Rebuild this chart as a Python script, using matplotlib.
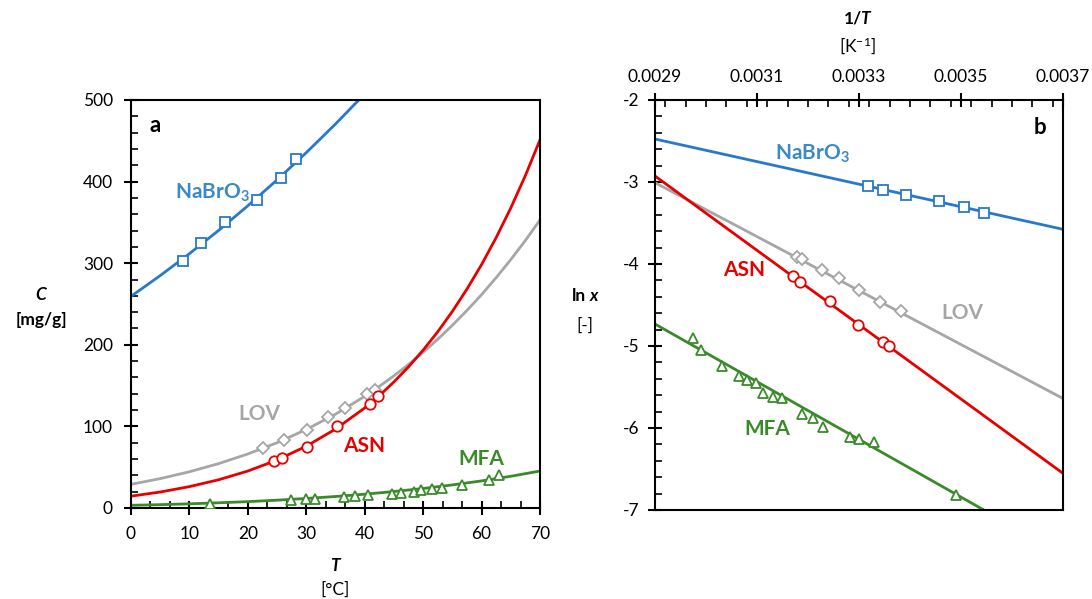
import matplotlib.pyplot as plt
from matplotlib.ticker import MultipleLocator

plt.rcParams['font.family'] = ['Lato', 'DejaVu Sans']
plt.rcParams['axes.unicode_minus'] = False
plt.rcParams['mathtext.fontset'] = 'custom'
plt.rcParams['mathtext.rm'] = 'Lato'
plt.rcParams['mathtext.bf'] = 'Lato:bold'
plt.rcParams['mathtext.it'] = 'Lato:italic'

# ---- panel a: C [mg/g] vs T [degC] ----
T_fit = [0, 5, 10, 15, 20, 25, 30, 35, 40, 45, 50, 55, 60, 65, 70]
nabro3_fit = [259.4, 284.8, 311.7, 340.2, 370.4, 402.1, 435.5, 470.6, 507.5]
mfa_fit = [3.3, 4.1, 5.1, 6.4, 7.8, 9.6, 11.7, 14.1, 16.9, 20.2,
           23.9, 28.3, 33.2, 38.9, 45.3]
# finer steps where ASN and LOV bend up
T_fine = [0, 5, 10, 15, 20, 25, 30, 35, 40, 42.5, 45, 47.5, 50, 52.5,
          55, 57.5, 60, 62.5, 65, 67.5, 70]
asn_fit = [14.5, 19.6, 26.2, 34.6, 45.3, 58.8, 75.7, 96.7, 122.6, 137.7,
           154.5, 173.0, 193.5, 216.0, 240.9, 268.3, 298.3, 331.4, 367.7,
           407.4, 451.2]
lov_fit = [29.0, 36.0, 44.4, 54.4, 66.2, 80.0, 96.2, 115.0, 136.8, 149.0,
           162.0, 175.9, 190.9, 206.8, 223.9, 242.1, 261.5, 282.3, 304.4,
           327.9, 353.0]

nabro3_T = [8.85, 12.0, 16.1, 21.6, 25.6, 28.3]
nabro3_C = [303, 325, 350, 377, 404, 428]
asn_T = [24.5, 25.8, 30.1, 35.2, 40.9, 42.3]
asn_C = [58, 61, 75, 100, 127, 137]
lov_T = [22.6, 26.2, 30.1, 33.8, 36.6, 40.4, 41.8]
lov_C = [74, 83, 96, 111, 122, 140, 145]
mfa_T = [13.5, 27.4, 29.9, 31.5, 36.5, 38.3, 40.6, 44.6, 46.2, 48.4,
         49.6, 51.6, 53.2, 56.7, 61.3, 62.9]
mfa_C = [4.5, 9.4, 10.6, 10.6, 13.5, 14.7, 15.5, 17.6, 18.4, 19.2,
         22.1, 22.9, 24.2, 27.8, 34.0, 40.1]

# ---- panel b: ln x vs 1/T [1/K] ----
invT_ends = [0.0029, 0.0037]
nabro3_line = [-2.476, -3.577]
asn_line = [-2.927, -6.553]
lov_line = [-3.008, -5.640]
mfa_line = [-4.732, -7.546]

nabro3_iT = [0.0033177, 0.0033477, 0.0033922, 0.0034563, 0.0035053, 0.0035457]
nabro3_lnx = [-3.045, -3.098, -3.159, -3.234, -3.301, -3.373]
asn_iT = [0.0031712, 0.0031837, 0.0032438, 0.0032987, 0.0033471, 0.0033595]
asn_lnx = [-4.143, -4.223, -4.451, -4.740, -4.946, -5.004]
lov_iT = [0.0031779, 0.0031889, 0.0032281, 0.0032602, 0.0033000, 0.0033412, 0.0033830]
lov_lnx = [-3.911, -3.943, -4.077, -4.171, -4.317, -4.463, -4.577]
mfa_iT = [0.0029751, 0.0029902, 0.0030320, 0.0030641, 0.0030798, 0.0030981,
          0.0031112, 0.0031320, 0.0031496, 0.0031888, 0.0032104, 0.0032300,
          0.0032824, 0.0033006, 0.0033294, 0.0034896]
mfa_lnx = [-4.898, -5.048, -5.240, -5.365, -5.413, -5.455, -5.573, -5.618,
           -5.638, -5.829, -5.874, -5.983, -6.114, -6.137, -6.166, -6.817]

c_blue, t_blue = '#2878CC', '#3A8AC8'
c_red = '#E60000'
c_gray = '#A6A6A6'
c_green = '#3A8A2C'

fig = plt.figure(figsize=(10.92, 5.99), dpi=100)
ax1 = fig.add_axes([131 / 1092, 91 / 599, 409 / 1092, 408 / 599])
ax2 = fig.add_axes([655 / 1092, 89 / 599, 408 / 1092, 410 / 599])

mk = dict(markerfacecolor='white', markersize=7.5, markeredgewidth=1.3,
          linestyle='none', zorder=3)

# panel a
ax1.plot(T_fit[:len(nabro3_fit)], nabro3_fit, color=c_blue, lw=2)
ax1.plot(T_fine, lov_fit, color=c_gray, lw=2)
ax1.plot(T_fine, asn_fit, color=c_red, lw=2)
ax1.plot(T_fit, mfa_fit, color=c_green, lw=2)
ax1.plot(nabro3_T, nabro3_C, marker='s', markeredgecolor=c_blue, **mk)
ax1.plot(lov_T, lov_C, marker='D', markeredgecolor=c_gray,
         **{**mk, 'markersize': 6.5})
ax1.plot(asn_T, asn_C, marker='o', markeredgecolor=c_red, **mk)
ax1.plot(mfa_T, mfa_C, marker='^', markeredgecolor=c_green, **mk)

ax1.set_xlim(0, 70)
ax1.set_ylim(0, 500)
ax1.xaxis.set_major_locator(MultipleLocator(10))
ax1.xaxis.set_minor_locator(MultipleLocator(10 / 3))
ax1.yaxis.set_major_locator(MultipleLocator(100))
ax1.yaxis.set_minor_locator(MultipleLocator(20))

lab = dict(fontsize=15, fontweight='bold', ha='center', va='center')
ax1.text(4.1, 469, 'a', **{**lab, 'fontsize': 16})
ax1.text(14, 386, r'NaBrO$_\mathbf{3}$', color=t_blue, **lab)
ax1.text(21.9, 115, 'LOV', color=c_gray, **lab)
ax1.text(39.9, 76, 'ASN', color=c_red, **lab)
ax1.text(59.9, 60, 'MFA', color=c_green, **lab)

# panel b
ax2.plot(invT_ends, nabro3_line, color=c_blue, lw=2)
ax2.plot(invT_ends, lov_line, color=c_gray, lw=2)
ax2.plot(invT_ends, asn_line, color=c_red, lw=2)
ax2.plot(invT_ends, mfa_line, color=c_green, lw=2)
ax2.plot(nabro3_iT, nabro3_lnx, marker='s', markeredgecolor=c_blue, **mk)
ax2.plot(lov_iT, lov_lnx, marker='D', markeredgecolor=c_gray,
         **{**mk, 'markersize': 6.5})
ax2.plot(asn_iT, asn_lnx, marker='o', markeredgecolor=c_red, **mk)
ax2.plot(mfa_iT, mfa_lnx, marker='^', markeredgecolor=c_green, **mk)

ax2.set_xlim(0.0029, 0.0037)
ax2.set_ylim(-7, -2)
ax2.xaxis.tick_top()
ax2.set_xticks([0.0029, 0.0031, 0.0033, 0.0035, 0.0037],
               ['0.0029', '0.0031', '0.0033', '0.0035', '0.0037'])
ax2.xaxis.set_minor_locator(MultipleLocator(0.00004))
ax2.yaxis.set_major_locator(MultipleLocator(1))
ax2.yaxis.set_minor_locator(MultipleLocator(0.2))

ax2.text(0.003655, -2.34, 'b', **{**lab, 'fontsize': 16})
ax2.text(0.0032079, -2.66, r'NaBrO$_\mathbf{3}$', color=t_blue, **lab)
ax2.text(0.0030745, -4.073, 'ASN', color=c_red, **lab)
ax2.text(0.003502, -4.598, 'LOV', color=c_gray, **lab)
ax2.text(0.0031196, -6.012, 'MFA', color=c_green, **lab)

for ax in (ax1, ax2):
    for s in ax.spines.values():
        s.set_linewidth(1.5)
    ax.tick_params(which='major', direction='inout', length=10, width=1.5,
                   labelsize=12.5, pad=6)
    ax.tick_params(which='minor', direction='in', length=5, width=1.2)
ax1.tick_params(axis='both', which='major', pad=8)
ax2.tick_params(axis='x', which='both', bottom=False, top=True)

# axis titles
def ftxt(x, y, s, **kw):
    fig.text(x / 1092, 1 - y / 599, s, ha='center', va='center', fontsize=12.5, **kw)

ftxt(41, 295, 'C', fontweight='bold', fontstyle='italic')
ftxt(41, 320, '[mg/g]', fontweight='bold')
ftxt(335, 566, 'T', fontweight='bold', fontstyle='italic')
ftxt(335, 590, '[°C]')
ftxt(579, 296, 'ln', fontweight='bold')
ftxt(594, 296, 'x', fontweight='bold', fontstyle='italic')
ftxt(585, 326, '[-]')
ftxt(853, 19, '1/', fontweight='bold')
ftxt(865, 19, 'T', fontweight='bold', fontstyle='italic')
ftxt(858, 46, r'[K$^{\mathrm{-1}}$]')

fig.savefig('out.png', dpi=100)
